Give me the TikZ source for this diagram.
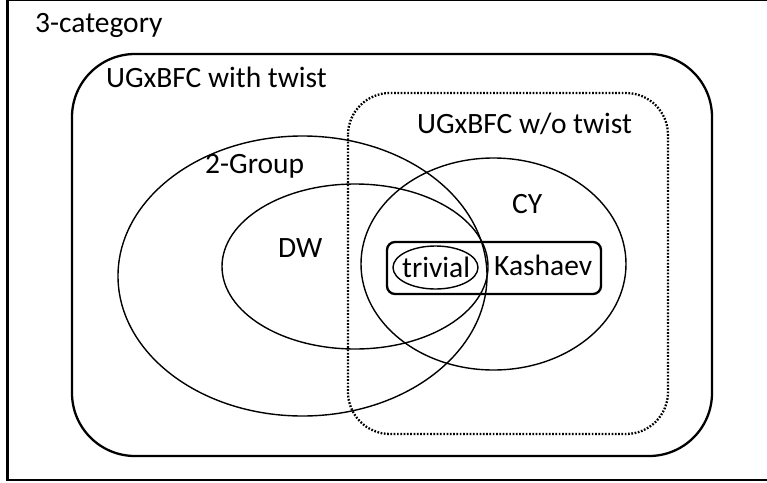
\documentclass[tikz,border=0pt]{standalone}
\usepackage{fontspec}
\setmainfont{Carlito}
\begin{document}
\begin{tikzpicture}[x=1pt,y=-1pt,
  lbl/.style={anchor=base west,inner sep=0pt,font=\fontsize{29.5}{34}\selectfont},
  thin line/.style={line width=1.4pt},
  bold line/.style={line width=2.3pt},
  dotline/.style={line width=2.3pt,dash pattern=on 1.7pt off 1.6pt}]
\useasboundingbox (0,0) rectangle (767,482);
\clip (0,0) rectangle (767,482);
\fill[white] (0,0) rectangle (767,482);
% outer 3-category frame
\draw[line width=2.3pt] (7.5,0.3) rectangle (800,480);
\node[lbl] (cat) at (35,32) {3-category};
% UGxBFC with twist
\draw[bold line,rounded corners=63pt] (72,54) rectangle (712,456);
\node[lbl] (wt) at (106,87) {UGxBFC with twist};
% UGxBFC w/o twist
\draw[dotline,rounded corners=42pt] (348,93) rectangle (668,434);
\node[lbl] (wo) at (417,133) {UGxBFC w/o twist};
% 2-Group
\draw[thin line] (302.5,276) ellipse [x radius=184.5, y radius=140];
\node[lbl] (tg) at (205,173) {2-Group};
% DW
\draw[thin line] (355,266.5) ellipse [x radius=133, y radius=82.5];
\node[lbl] (dw) at (278,257) {DW};
% CY
\draw[thin line] (493.5,264) ellipse [x radius=132.5, y radius=106];
\node[lbl] (cy) at (512,213) {CY};
% Kashaev box
\draw[bold line,rounded corners=8pt] (387,242) rectangle (601,294);
\node[lbl] (ka) at (494,275) {Kashaev};
% trivial
\draw[thin line] (435.5,267.5) ellipse [x radius=42.5, y radius=21.5];
\node[lbl] (tr) at (402,277) {trivial};
\end{tikzpicture}
\end{document}
